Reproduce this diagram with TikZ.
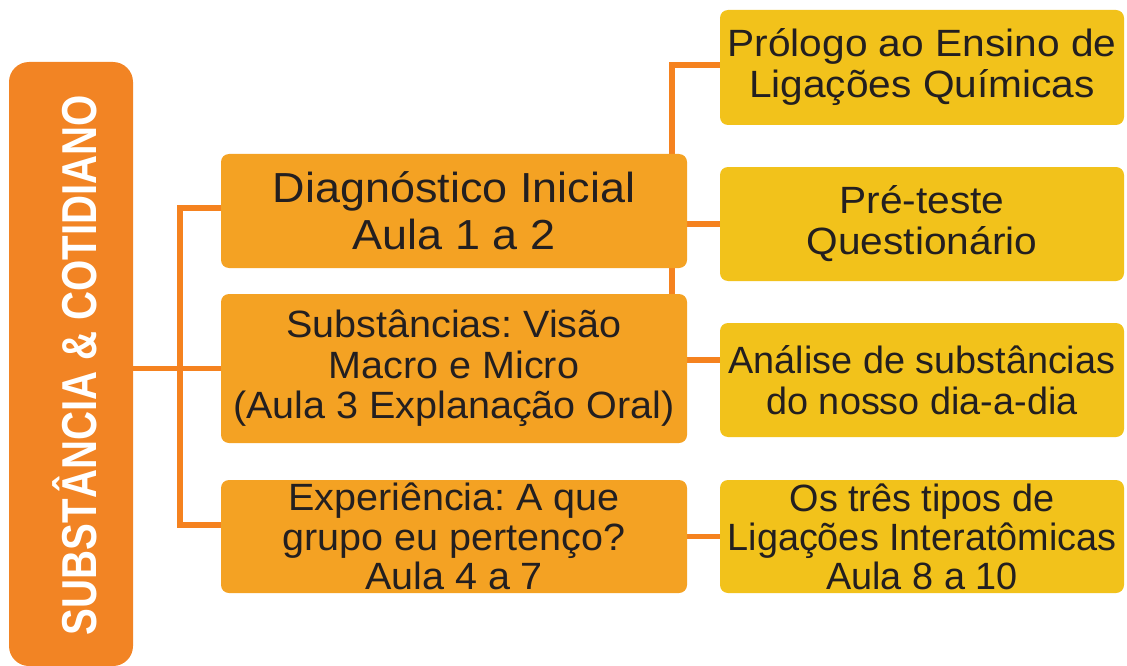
\documentclass[tikz,border=0pt]{standalone}
\usepackage{fontspec}
\setmainfont{Liberation Sans}
\newfontfamily\fsA{Liberation Sans}[FakeStretch=1.07]
\newfontfamily\fsB{Liberation Sans}[FakeStretch=1.04]
\newfontfamily\fsC{Liberation Sans}[FakeStretch=0.995]
\newfontfamily\narrowbold{Liberation Sans}[FakeStretch=0.82]
\usetikzlibrary{backgrounds}
\definecolor{leftorange}{HTML}{F28424}
\definecolor{midorange}{HTML}{F4A223}
\definecolor{rightyellow}{HTML}{F2C21B}
\definecolor{lineorange}{HTML}{F5821F}
\definecolor{txt}{HTML}{231F20}
\tikzset{
  box/.style={rectangle, rounded corners=8pt, inner sep=0pt, outer sep=0pt, align=center, text=txt},
  midbox/.style={box, fill=midorange, minimum width=466pt},
  rightbox/.style={box, fill=rightyellow, minimum width=404pt},
  conn/.style={draw=lineorange, line width=5.5pt}
}
\begin{document}
\frenchspacing
\begin{tikzpicture}[x=1pt,y=-1pt]
\useasboundingbox (0,0) rectangle (1127,666);
\node[rectangle, rounded corners=20pt, fill=leftorange, minimum width=124pt, minimum height=604pt, inner sep=0pt, outer sep=0pt] (L) at (71,364) {};
\node[rotate=90, text=white, inner sep=0pt, font=\narrowbold\bfseries\fontsize{49}{49}\selectfont] (Lt) at (75,365) {SUBSTÂNCIA \& COTIDIANO};
\node[midbox, minimum height=114pt, font=\fsA\fontsize{42}{47}\selectfont] (B1) at (454,211) {Diagnóstico Inicial\\Aula 1 a 2};
\node[midbox, minimum height=149pt, font=\fsB\fontsize{38}{40.5}\selectfont] (B2) at (454,368.5) {Substâncias: Visão\\Macro e Micro\\(Aula 3 Explanação Oral)};
\node[midbox, minimum height=113pt, font=\fsB\fontsize{38}{39.5}\selectfont] (B3) at (454,536.5) {Experiência: A que\\grupo eu pertenço?\\Aula 4 a 7};
\node[rightbox, minimum height=115pt, font=\fsA\fontsize{38}{41}\selectfont] (R1) at (922,67.5) {Prólogo ao Ensino de\\Ligações Químicas};
\node[rightbox, minimum height=114pt, font=\fsA\fontsize{38}{41}\selectfont] (R2) at (922,224) {Pré-teste\\Questionário};
\node[rightbox, minimum height=114pt, font=\fsC\fontsize{38}{41}\selectfont] (R3) at (922,380) {Análise de substâncias\\do nosso dia-a-dia};
\node[rightbox, minimum height=113pt, font=\fsC\fontsize{38}{39}\selectfont] (R4) at (922,536.5) {Os três tipos de\\Ligações Interatômicas\\Aula 8 a 10};
\coordinate (T) at (180,368);
\begin{pgfonlayer}{background}
\draw[conn] (L.east |- B2.west) -- (B2.west);
\draw[conn] ([yshift=3pt]B1.west) -| (T) |- ([yshift=11.5pt]B3.west);
\draw[conn] (B1.east |- R2.west) -- (R2.west);
\draw[conn] ([yshift=8.5pt]B2.east) -- ([yshift=8.5pt]B2.east -| R3.west);
\draw[conn] (B3.east) -- (R4.west);
\draw[conn] ([xshift=-15pt]B2.north east) |- ([yshift=2.5pt]R1.west);
\end{pgfonlayer}
\end{tikzpicture}
\end{document}
